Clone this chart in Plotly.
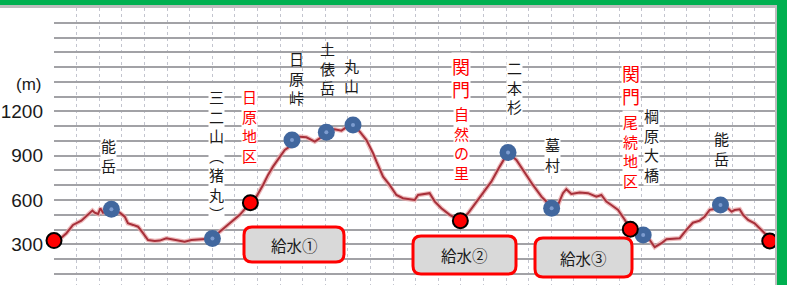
import plotly.graph_objects as go

# ---------------- data ----------------
km = [0.0, 0.25, 0.55, 0.84, 1.21, 1.50, 1.70, 1.80, 1.95, 2.05,
      2.17, 2.54, 2.91, 3.13, 3.27, 3.50, 3.72, 3.94, 4.16, 4.46,
      4.68, 4.97, 5.27, 5.56, 5.78, 6.08, 6.45, 6.74, 7.01, 7.33,
      7.77, 8.22, 8.69, 8.96, 9.25, 9.47, 9.69, 9.99, 10.21, 10.43,
      10.53, 10.87, 11.17, 11.54, 11.76, 12.05, 12.42, 12.72, 12.94, 13.23,
      13.53, 13.82, 14.12, 14.27, 14.56, 14.85, 15.15, 15.44, 15.74, 15.96,
      16.11, 16.40, 16.62, 16.85, 17.14, 17.51, 17.98, 18.32, 18.69, 19.06,
      19.35, 19.72, 20.09, 20.46, 20.83, 21.19, 21.57, 21.86, 22.02, 22.30,
      22.52, 22.67, 22.89, 23.26, 23.63, 24.00, 24.22, 24.44, 24.66, 24.96,
      25.26, 25.50, 26.07, 26.36, 26.58, 26.88, 27.10, 27.69, 27.98, 28.27,
      28.57, 28.79, 29.01, 29.16, 29.49, 29.82, 29.98, 30.12, 30.34, 30.49,
      30.71, 31.00, 31.30, 31.52, 31.67]
elev = [325, 334, 375, 431, 460, 499, 528, 514, 505, 544,
        514, 537, 514, 487, 442, 431, 419, 375, 329, 322,
        325, 341, 334, 325, 318, 329, 334, 336, 339, 385,
        442, 499, 582, 623, 702, 770, 826, 894, 939, 961,
        1007, 1029, 1025, 995, 1018, 1059, 1079, 1070, 1093, 1108,
        1063, 1007, 917, 860, 758, 702, 634, 612, 607, 600,
        634, 641, 646, 589, 544, 499, 460, 510, 589, 668,
        724, 826, 921, 871, 781, 702, 623, 578, 544, 566,
        646, 673, 641, 650, 646, 623, 634, 589, 566, 533,
        465, 402, 363, 329, 280, 307, 334, 341, 397, 446,
        460, 487, 533, 537, 566, 544, 521, 532, 537, 499,
        465, 442, 397, 363, 322]

peak_km = [2.54, 7.01, 10.53, 12.05, 13.23, 20.09, 22.02, 26.07, 29.49]
peak_elev = [537, 339, 1007, 1059, 1108, 921, 544, 363, 566]

check_km = [0.0, 8.69, 17.98, 25.50, 31.67]
check_elev = [325, 582, 460, 402, 322]

ytick_vals = list(range(100, 1900, 100))
ytick_labels = ["300", "600", "900", "1200"]
y_unit = "(m)"

water_labels = ["給水①", "給水②", "給水③"]

# label columns (vertical text)
label_texts = ["能岳", "三二山︵猪丸︶", "日原地区", "日原峠", "土俵岳", "丸山",
               "関門", "自然の里", "二本杉", "墓村", "関門", "尾続地区", "棡原大橋", "能岳"]

# ---------------- layout helpers ----------------
W, H = 787, 285
L, R, T, B = 54, 12, 8, 0
PW, PH = W - L - R, H - T - B


def X(p):
    return (p - L) / PW


def Y(p):
    return (H - B - p) / PH


BLACK = "#1a1a1a"
RED = "#ff0000"
JP = "Noto Sans CJK JP"

# (x_px, y_px of column centre, size, color, white background)
label_style = [
    (108, 155, 15, BLACK, True),
    (216.5, 155, 15, BLACK, True),
    (249.5, 126.5, 15, RED, True),
    (296.5, 78, 15, BLACK, False),
    (327, 68, 15, BLACK, False),
    (351, 75, 15, BLACK, False),
    (461, 77.5, 18, RED, True),
    (461.5, 143, 15, RED, True),
    (514, 87.5, 15, BLACK, True),
    (552, 154.5, 15, BLACK, True),
    (631, 84.5, 18, RED, True),
    (630.5, 151, 15, RED, True),
    (651, 144.5, 15, BLACK, True),
    (721, 148, 15, BLACK, False),
]

annotations = []
for text, (xp, yp, size, color, bg) in zip(label_texts, label_style):
    annotations.append(dict(
        x=X(xp), y=Y(yp), xref="paper", yref="paper", text="<br>".join(text),
        showarrow=False, xanchor="center", yanchor="middle", align="center",
        bgcolor="white" if bg else None, borderpad=0,
        font=dict(family=JP, size=size, color=color)))

# unit label
annotations.append(dict(x=X(43), y=Y(85), xref="paper", yref="paper", text=y_unit,
                        showarrow=False, xanchor="right", yanchor="middle",
                        font=dict(family="Liberation Sans", size=17, color=BLACK)))

shapes = []
# white text-box backgrounds
for (x0, y0, x1, y1) in [(277, 20, 345, 132), (345, 27, 367, 118), (710, 97, 732, 197)]:
    shapes.append(dict(type="rect", xref="paper", yref="paper",
                       x0=X(x0), x1=X(x1), y0=Y(y1), y1=Y(y0),
                       fillcolor="white", line=dict(width=0), layer="between"))


def rrect(x0, y0, x1, y1, r):
    pts = [
        ("M", [(x0 + r, y0)]), ("L", [(x1 - r, y0)]), ("Q", [(x1, y0), (x1, y0 + r)]),
        ("L", [(x1, y1 - r)]), ("Q", [(x1, y1), (x1 - r, y1)]), ("L", [(x0 + r, y1)]),
        ("Q", [(x0, y1), (x0, y1 - r)]), ("L", [(x0, y0 + r)]), ("Q", [(x0, y0), (x0 + r, y0)]),
    ]
    s = ""
    for cmd, ps in pts:
        s += cmd + " " + " ".join(f"{X(a):.5f},{Y(b):.5f}" for a, b in ps) + " "
    return s + "Z"


water_boxes = [(244, 227, 344, 262), (413, 236, 516, 274), (535, 238, 632, 277)]
for text, (x0, y0, x1, y1) in zip(water_labels, water_boxes):
    shapes.append(dict(type="path", xref="paper", yref="paper", path=rrect(x0, y0, x1, y1, 8),
                       fillcolor="#d9d9d9", line=dict(color=RED, width=3), layer="above"))
    annotations.append(dict(x=X((x0 + x1) / 2), y=Y((y0 + y1) / 2), xref="paper", yref="paper",
                            text=text, showarrow=False, xanchor="center", yanchor="middle",
                            font=dict(family=JP, size=15.5, color=BLACK)))

# frame: grey + green bands (top and right)
shapes += [
    dict(type="rect", xref="paper", yref="paper", x0=X(0), x1=X(W), y0=Y(8), y1=Y(5),
         fillcolor="#bdbdbd", line=dict(width=0), layer="above"),
    dict(type="rect", xref="paper", yref="paper", x0=X(0), x1=X(W), y0=Y(5), y1=Y(0),
         fillcolor="#00b050", line=dict(width=0), layer="above"),
    dict(type="rect", xref="paper", yref="paper", x0=X(775), x1=X(777), y0=Y(H), y1=Y(5),
         fillcolor="#bdbdbd", line=dict(width=0), layer="above"),
    dict(type="rect", xref="paper", yref="paper", x0=X(777), x1=X(W), y0=Y(H), y1=Y(0),
         fillcolor="#00b050", line=dict(width=0), layer="above"),
]

# ---------------- figure ----------------
fig = go.Figure()
fig.add_trace(go.Scatter(x=km, y=elev, mode="lines", hoverinfo="skip",
                         line=dict(color="#e9a6a8", width=4.5), opacity=0.75))
fig.add_trace(go.Scatter(x=km, y=elev, mode="lines",
                         line=dict(color="#a8303a", width=2)))
fig.add_trace(go.Scatter(x=peak_km, y=peak_elev, mode="markers", cliponaxis=False,
                         marker=dict(size=17, color="#41679e", line=dict(width=0))))
fig.add_trace(go.Scatter(x=peak_km, y=peak_elev, mode="markers", cliponaxis=False,
                         marker=dict(size=4, color="#7d9cd0", line=dict(width=0))))
fig.add_trace(go.Scatter(x=check_km, y=check_elev, mode="markers", cliponaxis=False,
                         marker=dict(size=15, color=RED, line=dict(color="black", width=2))))

ytext = [str(v) if str(v) in ytick_labels else "" for v in ytick_vals]

fig.update_layout(
    width=W, height=H, margin=dict(l=L, r=R, t=T, b=B, pad=0),
    paper_bgcolor="white", plot_bgcolor="white", showlegend=False,
    xaxis=dict(range=[0, PW / 22.6], tick0=0, dtick=1, showgrid=True, gridcolor="#c3c5cf",
               gridwidth=1, griddash="dot", zeroline=False, showticklabels=False,
               showline=False, ticks="", fixedrange=True),
    yaxis=dict(range=[24, 24 + PH / 0.1476], tickmode="array", tickvals=ytick_vals, ticktext=ytext,
               showgrid=True, gridcolor="#a2a2a6", gridwidth=1.5, zeroline=False,
               showline=False, ticks="", ticklabelstandoff=10,
               tickfont=dict(family="Liberation Sans", size=19, color=BLACK), fixedrange=True),
    shapes=shapes, annotations=annotations,
)

fig.write_html("out.html", config={"displayModeBar": False},
               post_script="document.body.style.margin='0px';document.body.style.overflow='hidden';")
